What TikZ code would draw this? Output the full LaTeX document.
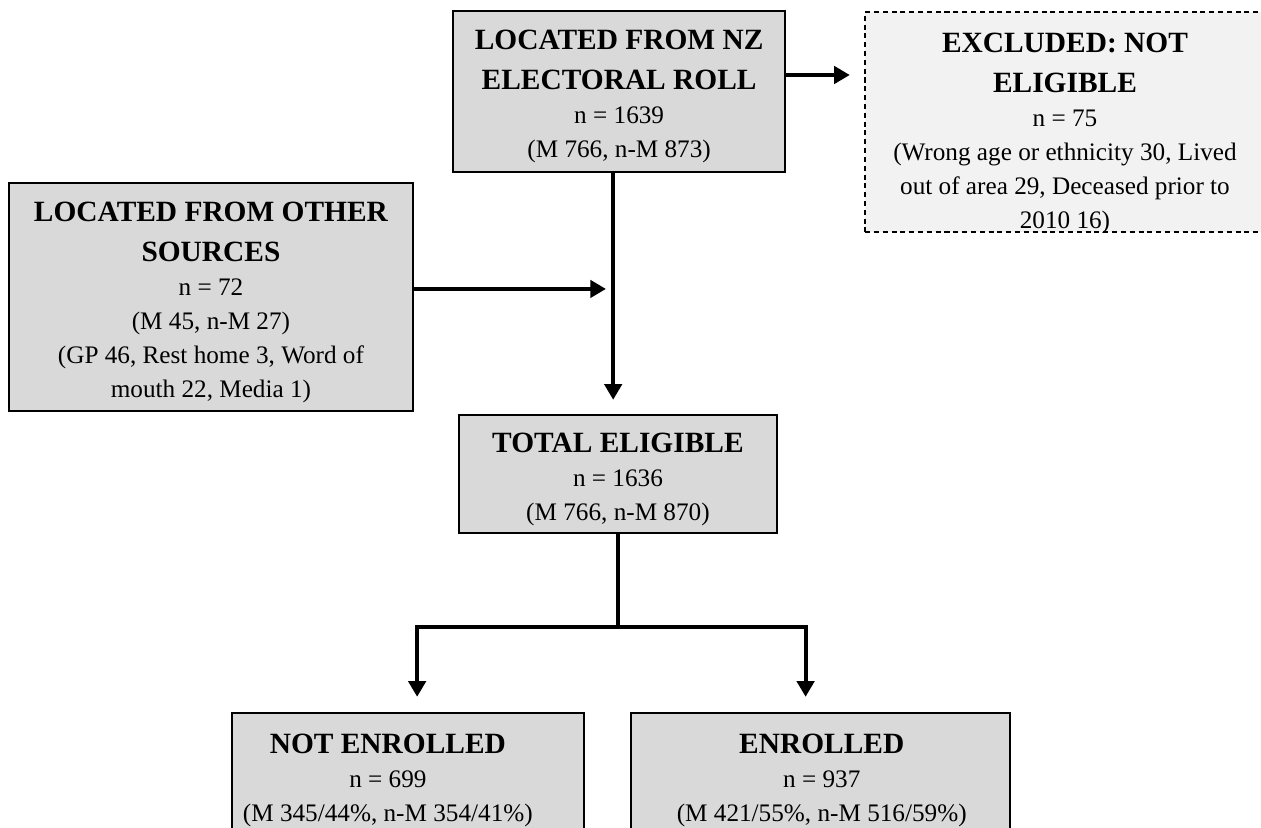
\documentclass[tikz,border=0pt]{standalone}
\usepackage{fontspec}
\setmainfont{Liberation Serif}
\usetikzlibrary{arrows.meta}
\definecolor{boxgray}{RGB}{217,217,217}
\definecolor{exgray}{RGB}{242,242,242}
\newcommand{\hd}[1]{{\fontsize{14}{19}\selectfont\bfseries #1}}
\newcommand{\topgap}{\rule{0pt}{14.5pt}}

\begin{document}
\begin{tikzpicture}[
    box/.style={draw,line width=0.9pt,fill=boxgray,inner sep=0pt},
    exbox/.style={draw,line width=0.6pt,dash pattern=on 2.4pt off 1.8pt,fill=exgray,inner sep=0pt},
    txt/.style={align=center,font=\fontsize{12}{16.2}\selectfont},
    arrow/.style={line width=1.9pt,-{Triangle[length=7.5pt,width=8.2pt]}},
    link/.style={line width=1.9pt}]
  \useasboundingbox (0,0) rectangle (21.10,-13.84);
  % Electoral roll
  \node[box,txt,minimum width=5.55cm,minimum height=2.69cm] (roll) at (10.36,-1.53)
    {\topgap\hd{LOCATED FROM NZ}\\[2.8pt]\hd{ELECTORAL ROLL}\\n = 1639\\(M 766, n-M 873)};
  % Excluded
  \node[exbox,minimum width=6.69cm,minimum height=3.68cm] (excl) at (17.82,-2.04) {};
  \begin{scope}
    \clip (excl.south west) rectangle (excl.north east);
    \node[txt] (excltext) at (17.82,-2.24)
      {\hd{EXCLUDED: NOT}\\[2.8pt]\hd{ELIGIBLE}\\n = 75\\(Wrong age or ethnicity 30, Lived\\out of area 29, Deceased prior to\\2010 16)};
  \end{scope}
  % Other sources
  \node[box,txt,minimum width=6.76cm,minimum height=3.81cm] (other) at (3.53,-4.97)
    {\topgap\hd{LOCATED FROM OTHER}\\[2.8pt]\hd{SOURCES}\\n = 72\\(M 45, n-M 27)\\(GP 46, Rest home 3, Word of\\mouth 22, Media 1)};
  % Total eligible
  \node[box,txt,minimum width=5.32cm,minimum height=1.97cm] (total) at (10.34,-7.93)
    {\topgap\hd{TOTAL ELIGIBLE}\\n = 1636\\(M 766, n-M 870)};
  % Not enrolled / enrolled
  \node[box,minimum width=5.89cm,minimum height=2.63cm] (notenr) at (6.83,-13.24) {};
  \node[txt] (notenrtext) at (6.49,-13.06)
    {\hd{NOT ENROLLED}\\n = 699\\(M 345/44\%, n-M 354/41\%)};
  \node[box,minimum width=6.34cm,minimum height=2.63cm] (enr) at (13.73,-13.24) {};
  \node[txt] (enrtext) at (13.75,-13.06)
    {\hd{ENROLLED}\\n = 937\\(M 421/55\%, n-M 516/59\%)};
  % Connectors
  \coordinate (exin) at (14.22,-1.255);
  \coordinate (mergein) at (10.14,-4.835);
  \coordinate (totin) at (10.26,-6.69);
  \coordinate (nein) at (6.98,-11.66);
  \coordinate (ein) at (13.48,-11.66);
  \draw[arrow] (roll.east |- exin) -- (exin);
  \draw[arrow] (roll.south -| totin) -- (totin);
  \draw[arrow] (other.east |- mergein) -- (mergein);
  \draw[link] (total.south) -- ++(0,-1.556) coordinate (split);
  \draw[arrow] (split) -| (nein);
  \draw[arrow] (split) -| (ein);
\end{tikzpicture}
\end{document}
